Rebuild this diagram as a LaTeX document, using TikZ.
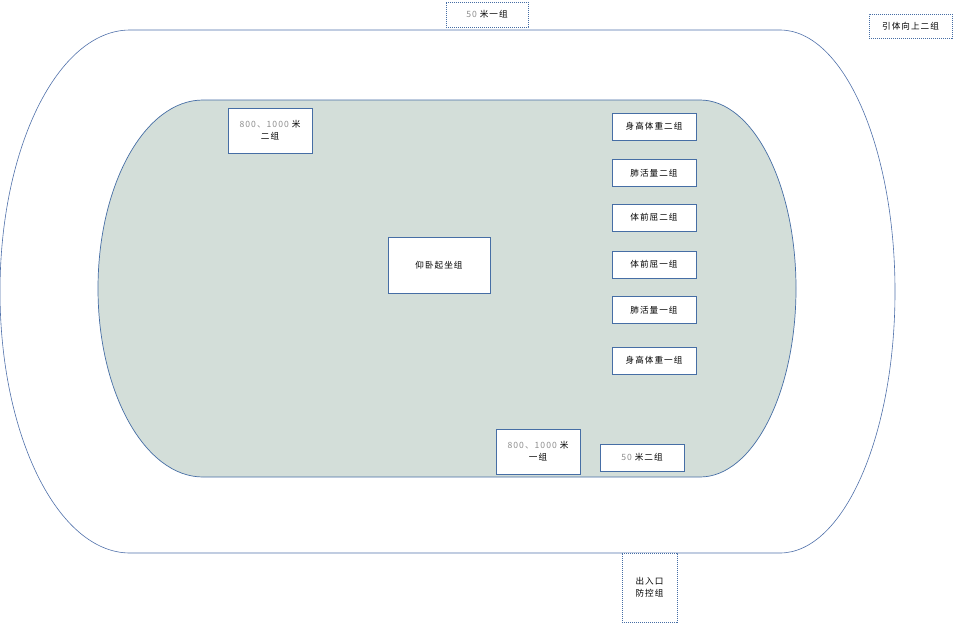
\documentclass[tikz,border=0pt]{standalone}
\usepackage{fontspec}
\setmainfont{Noto Sans CJK SC}
\newfontfamily\boxfont[LetterSpace=12]{Noto Sans CJK SC}
\usepackage{xcolor}
\usetikzlibrary{positioning}
\definecolor{lineblue}{RGB}{79,112,170}
\definecolor{boxblue}{RGB}{70,110,165}
\definecolor{fieldfill}{RGB}{211,222,217}
\definecolor{numgray}{RGB}{140,140,140}

\begin{document}
\begin{tikzpicture}[
    x=1pt, y=-1pt,
    box/.style={rectangle, draw=boxblue, line width=0.6pt, fill=white, align=center, inner sep=0pt, minimum width=84pt, minimum height=27pt, font=\boxfont\fontsize{8.6}{12}\selectfont},
    outbox/.style={box, dash pattern=on 1.2pt off 0.8pt, line width=0.6pt},
    num/.style={text=numgray}
]
\useasboundingbox (0,0) rectangle (955,624);
% track and infield
\draw[lineblue, line width=0.6pt, fill=white] (130,30) -- (780,30)
    arc[start angle=90, end angle=-90, x radius=115pt, y radius=261.5pt]
    -- (130,553)
    arc[start angle=270, end angle=90, x radius=130pt, y radius=261.5pt] -- cycle;
\draw[boxblue, line width=0.7pt, fill=fieldfill] (203,100) -- (700,100)
    arc[start angle=90, end angle=-90, x radius=96pt, y radius=188.5pt]
    -- (203,477)
    arc[start angle=270, end angle=90, x radius=105pt, y radius=188.5pt] -- cycle;

% groups outside the track
\node[outbox, minimum width=82pt, minimum height=25pt] (run50a) at (487,14.5) {\textcolor{numgray}{50} 米一组};
\node[outbox, minimum width=83pt, minimum height=24pt] (pullup) at (910.5,26) {引体向上二组};
\node[outbox, minimum width=55pt, minimum height=69pt] (gate) at (649.5,587.5) {出入口\\防控组};

% groups inside the field
\node[box, minimum height=45pt] (run800b) at (270,130.5) {\textcolor{numgray}{800、1000} 米\\二组};
\node[box, minimum width=102pt, minimum height=56pt] (situp) at (439,265) {仰卧起坐组};
\node[box, minimum height=45pt] (run800a) at (538,451.5) {\textcolor{numgray}{800、1000} 米\\一组};
\node[box] (run50b) at (642,457.5) {\textcolor{numgray}{50} 米二组};

% right column, stacked
\node[box] (hwb) at (654,126.5) {身高体重二组};
\node[box, below=19pt of hwb] (lungb) {肺活量二组};
\node[box, below=17pt of lungb] (flexb) {体前屈二组};
\node[box, below=19pt of flexb] (flexa) {体前屈一组};
\node[box, below=18pt of flexa] (lunga) {肺活量一组};
\node[box, below=23pt of lunga] (hwa) {身高体重一组};
\end{tikzpicture}
\end{document}
